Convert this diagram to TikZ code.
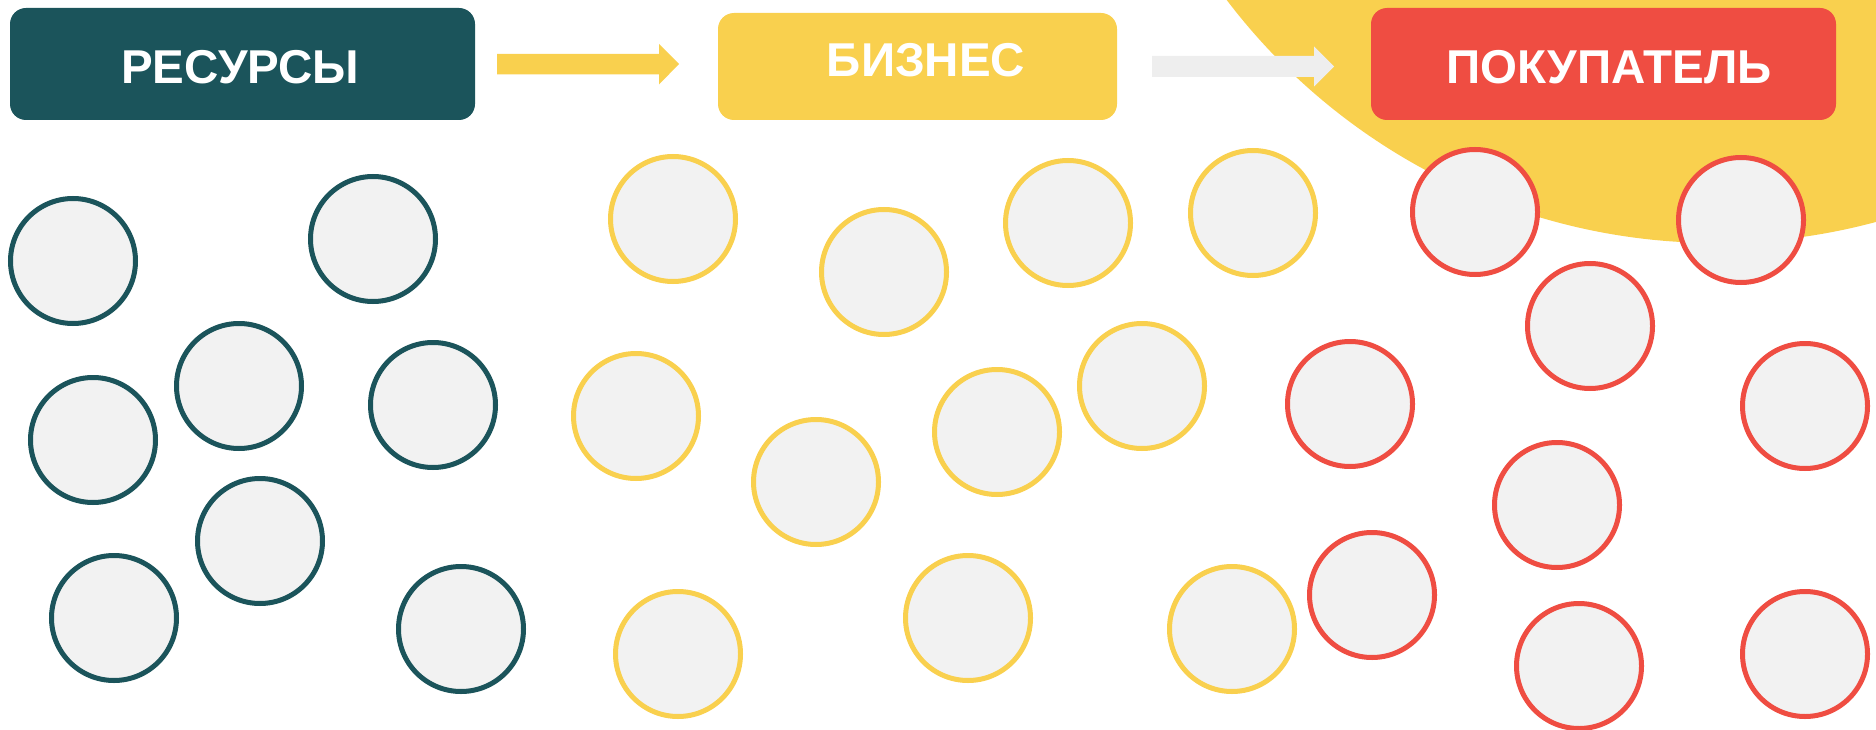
\documentclass[tikz,border=0pt]{standalone}
\usepackage{fontspec}
\setmainfont{Liberation Sans}
\definecolor{teal1}{HTML}{1B545B}
\definecolor{yel}{HTML}{F9D04E}
\definecolor{redc}{HTML}{EF4D42}
\definecolor{arrgray}{HTML}{EEEEEE}
\definecolor{circfill}{HTML}{F2F2F2}
\tikzset{
  hdr/.style={rounded corners=16pt, inner sep=0pt},
  hdrtext/.style={text=white, anchor=base, inner sep=0pt, font=\fontsize{47.5}{48}\selectfont\bfseries},
  dot/.style={circle, minimum size=125pt, inner sep=0pt, line width=5pt, fill=circfill},
  tealdot/.style={dot, draw=teal1},
  yeldot/.style={dot, draw=yel},
  reddot/.style={dot, draw=redc},
}
\begin{document}
\begin{tikzpicture}[x=1pt,y=-1pt]
\useasboundingbox (0,0) rectangle (1876,730);
\begin{scope}
\clip (0,0) rectangle (1876,730);
\fill[yel] (1716,-371) circle (614);
\end{scope}
% header boxes
\fill[teal1, hdr] (10,8) rectangle (475,120);
\fill[yel, hdr] (718,13) rectangle (1117,120);
\fill[redc, hdr] (1371,8) rectangle (1836,120);
\node[hdrtext] (res) at (240,84) {РЕСУРСЫ};
\node[hdrtext] (biz) at (926,77) {БИЗНЕС};
\node[hdrtext] (pok) at (1609,84) {ПОКУПАТЕЛЬ};
% arrows
\fill[yel] (497,54) -- (659,54) -- (659,44) -- (679,64) -- (659,84.5) -- (659,74.5) -- (497,74.5) -- cycle;
\fill[arrgray] (1152,56) -- (1314,56) -- (1314,46.5) -- (1334,66.5) -- (1314,86.5) -- (1314,77) -- (1152,77) -- cycle;
% teal circles
\node[tealdot] (t1) at (73,261) {};
\node[tealdot] (t2) at (373,239) {};
\node[tealdot] (t3) at (239,386) {};
\node[tealdot] (t4) at (433,405) {};
\node[tealdot] (t5) at (93,440) {};
\node[tealdot] (t6) at (260,541) {};
\node[tealdot] (t7) at (114,618) {};
\node[tealdot] (t8) at (461,629) {};
% yellow circles
\node[yeldot] (y1) at (673,219) {};
\node[yeldot] (y2) at (884,272) {};
\node[yeldot] (y3) at (1068,223) {};
\node[yeldot] (y4) at (1253,213) {};
\node[yeldot] (y5) at (636,416) {};
\node[yeldot] (y6) at (997,432) {};
\node[yeldot] (y7) at (1142,386) {};
\node[yeldot] (y8) at (816,482) {};
\node[yeldot] (y9) at (678,654) {};
\node[yeldot] (y10) at (968,618) {};
\node[yeldot] (y11) at (1232,629) {};
% red circles
\node[reddot] (r1) at (1475,212) {};
\node[reddot] (r2) at (1741,220) {};
\node[reddot] (r3) at (1590,326) {};
\node[reddot] (r4) at (1350,404) {};
\node[reddot] (r5) at (1805,406) {};
\node[reddot] (r6) at (1557,505) {};
\node[reddot] (r7) at (1372,595) {};
\node[reddot] (r8) at (1579,666) {};
\node[reddot] (r9) at (1805,654) {};
\end{tikzpicture}
\end{document}
